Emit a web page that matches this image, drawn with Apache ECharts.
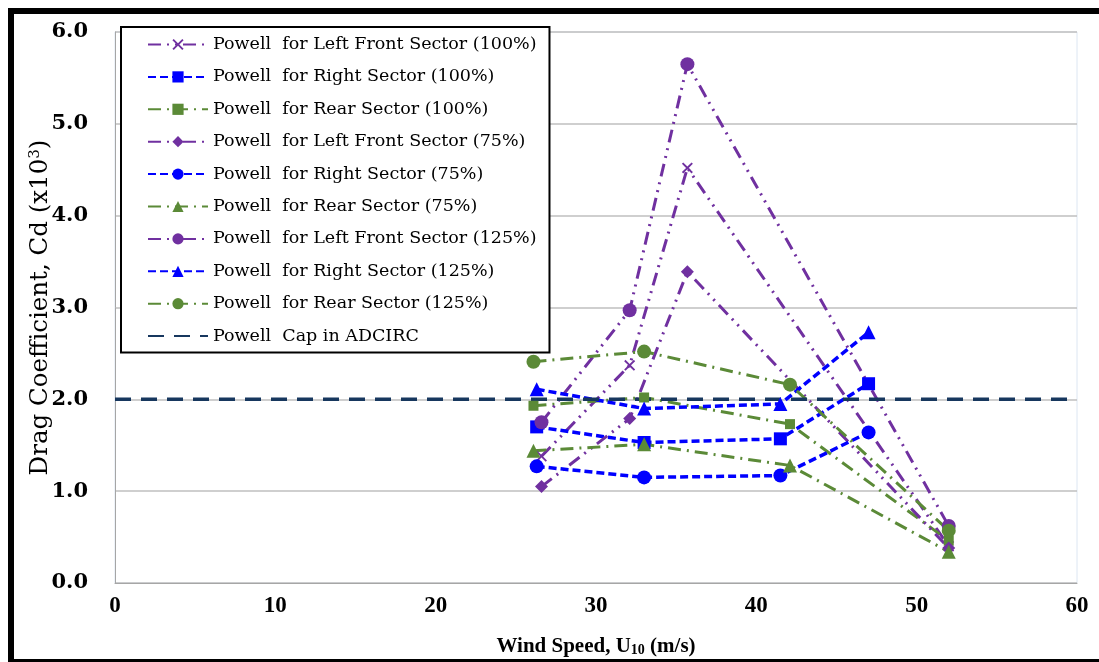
<!DOCTYPE html>
<html>
<head>
<meta charset="utf-8">
<script src="https://cdn.jsdelivr.net/npm/echarts@6/dist/echarts.min.js"></script>
<style>
html,body{margin:0;padding:0;background:#fff;}
#c{width:1099px;height:662px;}
</style>
</head>
<body>
<div id="c"></div>
<script>
// ---- data ----
const seriesNames = [
  'Powell  for Left Front Sector (100%)',
  'Powell  for Right Sector (100%)',
  'Powell  for Rear Sector (100%)',
  'Powell  for Left Front Sector (75%)',
  'Powell  for Right Sector (75%)',
  'Powell  for Rear Sector (75%)',
  'Powell  for Left Front Sector (125%)',
  'Powell  for Right Sector (125%)',
  'Powell  for Rear Sector (125%)',
  'Powell  Cap in ADCIRC'
];
const xLeftFront = [26.6, 32.1, 35.7, 52.0];
const xRight = [26.3, 33.0, 41.5, 47.0];
const xRear = [26.1, 33.0, 42.1, 52.0];
const yLeftFront100 = [1.38, 2.37, 4.52, 0.40];
const yRight100 = [1.70, 1.53, 1.57, 2.17];
const yRear100 = [1.93, 2.02, 1.73, 0.46];
const yLeftFront75 = [1.05, 1.79, 3.39, 0.38];
const yRight75 = [1.27, 1.15, 1.17, 1.64];
const yRear75 = [1.44, 1.51, 1.28, 0.34];
const yLeftFront125 = [1.75, 2.97, 5.65, 0.62];
const yRight125 = [2.11, 1.90, 1.95, 2.73];
const yRear125 = [2.41, 2.52, 2.16, 0.57];
const xCap = [0, 60];
const yCap = [2.0, 2.0];
const yTicks = [0, 1, 2, 3, 4, 5, 6];
const xTicks = [0, 10, 20, 30, 40, 50, 60];

// ---- styles ----
const PURPLE = '#7030a0', BLUE = '#0000ff', GREEN = '#5b8a37', NAVY = '#17375e';
const dashDotDot = [13, 6, 2, 6, 2, 6];
const dashBlue = [8, 4];
const dashDot = [13, 6, 2, 6];
const xSymbol = 'path://M0,1.2 L1.2,0 L5,3.8 L8.8,0 L10,1.2 L6.2,5 L10,8.8 L8.8,10 L5,6.2 L1.2,10 L0,8.8 L3.8,5 Z';

function pairs(xs, ys){ return xs.map((x,i)=>[x, ys[i]]); }
function mk(name, xs, ys, color, dash, width, symbol, size){
  return {
    name: name, type: 'line', data: pairs(xs, ys),
    symbol: symbol, symbolSize: size, showSymbol: symbol !== 'none',
    lineStyle: {color: color, width: width, type: dash},
    itemStyle: {color: color, borderWidth: 0},
    emphasis: {disabled: true}, animation: false
  };
}
const series = [
  mk(seriesNames[0], xLeftFront, yLeftFront100, PURPLE, dashDotDot, 3, xSymbol, 11),
  mk(seriesNames[1], xRight, yRight100, BLUE, dashBlue, 3.5, 'rect', 13),
  mk(seriesNames[2], xRear, yRear100, GREEN, dashDot, 3, 'rect', 10),
  mk(seriesNames[3], xLeftFront, yLeftFront75, PURPLE, dashDotDot, 3, 'diamond', 13),
  mk(seriesNames[4], xRight, yRight75, BLUE, dashBlue, 3.5, 'circle', 14),
  mk(seriesNames[5], xRear, yRear75, GREEN, dashDot, 3, 'triangle', 14),
  mk(seriesNames[6], xLeftFront, yLeftFront125, PURPLE, dashDotDot, 3, 'circle', 14),
  mk(seriesNames[7], xRight, yRight125, BLUE, dashBlue, 3.5, 'triangle', 14),
  mk(seriesNames[8], xRear, yRear125, GREEN, dashDot, 3, 'circle', 14),
  mk(seriesNames[9], xCap, yCap, NAVY, [16, 10], 3.5, 'none', 0)
];

const legendData = seriesNames.map((n, i) => i === 9
  ? {name: n, itemStyle: {color: 'rgba(0,0,0,0)', borderWidth: 0}}
  : {name: n});

const chart = echarts.init(document.getElementById('c'), null, {renderer: 'canvas'});
chart.setOption({
  backgroundColor: '#fff',
  animation: false,
  grid: {left: 115, right: 22, top: 32, bottom: 78, show: true, borderColor: '#dce6f2', borderWidth: 1, backgroundColor: 'transparent'},
  xAxis: {
    type: 'value', min: xTicks[0], max: xTicks[xTicks.length-1], interval: 10,
    axisLine: {show: true, lineStyle: {color: '#a6a6a6', width: 1}},
    axisTick: {show: false},
    splitLine: {show: false},
    axisLabel: {margin: 12, color: '#000', fontFamily: 'Liberation Serif', fontWeight: 'bold', fontSize: 23,
      formatter: v => xTicks.includes(v) ? String(v) : ''},
    name: 'Wind Speed, U{sub|10} (m/s)', nameLocation: 'middle', nameGap: 53, nameMoveOverlap: false,
    nameTextStyle: {color: '#000', fontFamily: 'Liberation Serif', fontWeight: 'bold', fontSize: 21,
      rich: {sub: {fontFamily: 'Liberation Serif', fontWeight: 'bold', fontSize: 14, verticalAlign: 'bottom', padding: [7,0,0,0]}}}
  },
  yAxis: {
    type: 'value', min: yTicks[0], max: yTicks[yTicks.length-1], interval: 1,
    axisLine: {show: true, lineStyle: {color: '#a6a6a6', width: 1}},
    axisTick: {show: false},
    splitLine: {show: true, lineStyle: {color: '#bfbfbf', width: 1.5}},
    axisLabel: {margin: 27, color: '#000', fontFamily: 'DejaVu Serif', fontWeight: 'bold', fontSize: 21,
      formatter: v => v.toFixed(1)},
    name: 'Drag Coefficient, Cd (x10{sup|3})', nameLocation: 'middle', nameGap: 62, nameRotate: 90, nameMoveOverlap: false,
    nameTextStyle: {color: '#000', fontFamily: 'DejaVu Serif', fontWeight: 'normal', fontSize: 24.5,
      rich: {sup: {fontFamily: 'DejaVu Serif', fontSize: 15, verticalAlign: 'top', padding: [0,0,10,0]}}}
  },
  legend: {
    orient: 'vertical', left: 121, top: 27,
    data: legendData,
    itemWidth: 60, itemHeight: 14, itemGap: 13.4,
    padding: [8, 13, 7, 26],
    backgroundColor: '#fff', borderColor: '#000', borderWidth: 2,
    textStyle: {color: '#000', fontFamily: 'DejaVu Serif', fontSize: 17.5, lineHeight: 19},
    selectedMode: false
  },
  graphic: [
    {type: 'rect', shape: {x: 8, y: 8, width: 6, height: 654}, style: {fill: '#000'}, silent: true, z: 100},
    {type: 'rect', shape: {x: 8, y: 8, width: 1091, height: 6}, style: {fill: '#000'}, silent: true, z: 100},
    {type: 'rect', shape: {x: 8, y: 659, width: 1091, height: 3}, style: {fill: '#000'}, silent: true, z: 100}
  ],
  series: series
});
</script>
</body>
</html>
